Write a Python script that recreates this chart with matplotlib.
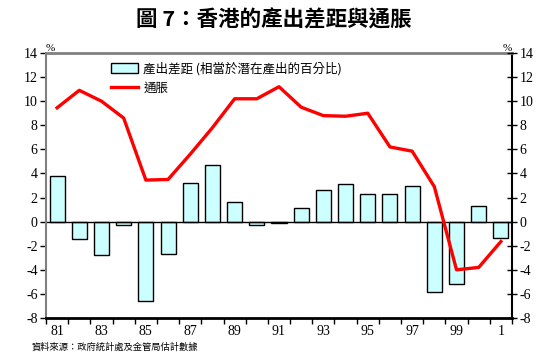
import matplotlib
matplotlib.use("Agg")
import matplotlib.pyplot as plt
import numpy as np

years = list(range(1981, 2002))
output_gap = [3.8, -1.4, -2.8, -0.3, -6.6, -2.7, 3.2, 4.7, 1.6, -0.25, -0.15,
              1.1, 2.6, 3.1, 2.3, 2.3, 2.95, -5.8, -5.2, 1.3, -1.35]
inflation = [9.45, 10.9, 10.0, 8.6, 3.45, 3.5, 5.6, 7.8, 10.2, 10.2, 11.2,
             9.5, 8.8, 8.75, 9.0, 6.2, 5.85, 2.9, -4.0, -3.8, -1.65]
xlabels = ["81", "83", "85", "87", "89", "91", "93", "95", "97", "99", "1"]
yticks = list(range(-8, 15, 2))

cjk = ['Noto Sans CJK TC', 'DejaVu Sans']
serif = ['Liberation Serif', 'DejaVu Serif']

fig = plt.figure(figsize=(5.48, 3.61), dpi=100)
ax = fig.add_axes([46/548, 1-318/361, (512-46)/548, (318-53)/361])

x = np.arange(len(years))
bars = ax.bar(x, output_gap, width=0.68, color='#CCFFFF', edgecolor='black', linewidth=1.0,
              label='產出差距 (相當於潛在產出的百分比)', zorder=2)
line, = ax.plot(x, inflation, color='#FF0000', lw=2.4, label='通脹', zorder=3)
ax.axhline(0, color='black', lw=1.0, zorder=2.5)

ax.set_xlim(-0.5, len(years)-0.5)
ax.set_ylim(-8, 14)

# spines
ax.spines['top'].set_color('#808080')
ax.spines['top'].set_linewidth(2)
ax.spines['left'].set_color('#808080')
ax.spines['left'].set_linewidth(1.5)
ax.spines['bottom'].set_color('black')
ax.spines['bottom'].set_linewidth(2)
ax.spines['right'].set_color('black')
ax.spines['right'].set_linewidth(1.5)

# y ticks left
ax.set_yticks(yticks)
ax.set_yticklabels([str(v) for v in yticks], family=serif, fontsize=10)
ax.tick_params(axis='y', direction='out', length=4, width=1, color='black', pad=2)

ax2 = ax.twinx()
ax2.set_ylim(-8, 14)
ax2.set_yticks(yticks)
ax2.set_yticklabels([str(v) for v in yticks], family=serif, fontsize=10)
ax2.tick_params(axis='y', direction='inout', length=7, width=1, color='black', pad=2)
for s in ax2.spines.values():
    s.set_visible(False)

# x ticks: boundaries as major ticks, labels as minor
ax.set_xticks(np.arange(-0.5, len(years), 1.0))
ax.set_xticklabels([])
ax.tick_params(axis='x', which='major', direction='out', length=4, width=1, color='black')
lab_pos = [years.index(1981 + 2*i) for i in range(len(xlabels))]
ax.set_xticks(lab_pos, minor=True)
ax.set_xticklabels(xlabels, minor=True, family=serif, fontsize=10)
ax.tick_params(axis='x', which='minor', length=0, pad=5)

# % labels
ax.text(0.0, 1.0, '%', transform=ax.transAxes, fontsize=8, family=serif,
        ha='left', va='bottom')
ax.text(1.0, 1.0, '%', transform=ax.transAxes, fontsize=8, family=serif,
        ha='right', va='bottom')

leg = ax.legend(handles=[bars, line], loc='upper left', bbox_to_anchor=(0.12, 1.0),
                frameon=False, prop={'family': cjk, 'size': 9}, handlelength=2.2,
                handleheight=0.8, labelspacing=0.5, handletextpad=0.4,
                borderaxespad=0.3)

fig.text(0.5, 1-20/361, '圖 7：香港的產出差距與通脹', ha='center', va='center',
         family=cjk, fontsize=15.5, fontweight='bold')
fig.text(32/548, 1-347/361, '資料來源：政府統計處及金管局估計數據', ha='left',
         va='center', family=cjk, fontsize=6.7)

fig.savefig('out.png', dpi=100)
